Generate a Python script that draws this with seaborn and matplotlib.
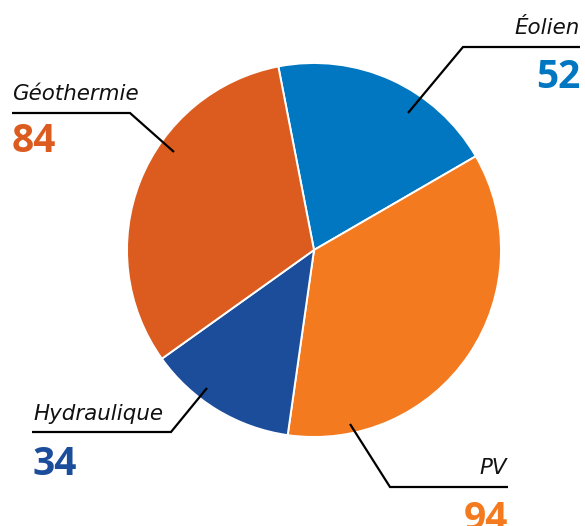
import matplotlib
matplotlib.use("Agg")
import matplotlib.pyplot as plt
import seaborn as sns

sns.set_theme(style="white")
plt.rcParams["font.family"] = ["DejaVu Sans"]

# Energy sources and their counts
categories = ["Éolien", "PV", "Hydraulique", "Géothermie"]
values = [52, 94, 34, 84]
colors = ["#0077c0", "#f47a20", "#1b4d9b", "#dc5c20"]

W, H = 585, 526
fig = plt.figure(figsize=(W / 100, H / 100), dpi=100)
ax = fig.add_axes([0, 0, 1, 1])


def fy(y):
    """Convert a top-down pixel row into axes y."""
    return H - y


ax.pie(values, colors=colors, startangle=101, counterclock=False,
       center=(314, fy(250)), radius=187,
       wedgeprops=dict(edgecolor="white", linewidth=1.4))
ax.set_xlim(0, W)
ax.set_ylim(0, H)
ax.set_aspect("equal")
ax.axis("off")

# label layout: name position, value position, alignment, leader line path
layout = {
    "Géothermie": dict(name=(12, 100), val=(12, 152), ha="left",
                       line=[(12, 113), (130, 113), (174, 152)]),
    "Éolien": dict(name=(580, 34), val=(580, 88), ha="right",
                   line=[(580, 47), (463, 47), (408, 113)]),
    "Hydraulique": dict(name=(33, 420), val=(33, 475), ha="left",
                        line=[(32, 432), (171, 432), (207, 388)]),
    "PV": dict(name=(507, 474), val=(508, 530), ha="right",
               line=[(508, 487), (390, 487), (350, 424)]),
}

for cat, val, col in zip(categories, values, colors):
    spec = layout[cat]
    xs = [p[0] for p in spec["line"]]
    ys = [fy(p[1]) for p in spec["line"]]
    ax.plot(xs, ys, color="black", lw=1.6, solid_capstyle="butt",
            solid_joinstyle="miter", clip_on=False)
    ax.text(spec["name"][0], fy(spec["name"][1]), cat, ha=spec["ha"],
            va="baseline", fontsize=15.4, fontstyle="italic", color="#111111",
            family=["DejaVu Sans"])
    ax.text(spec["val"][0], fy(spec["val"][1]), str(val), ha=spec["ha"],
            va="baseline", fontsize=28, fontweight="bold", color=col,
            family=["Open Sans"], clip_on=False)

fig.savefig("out.png", dpi=100)
